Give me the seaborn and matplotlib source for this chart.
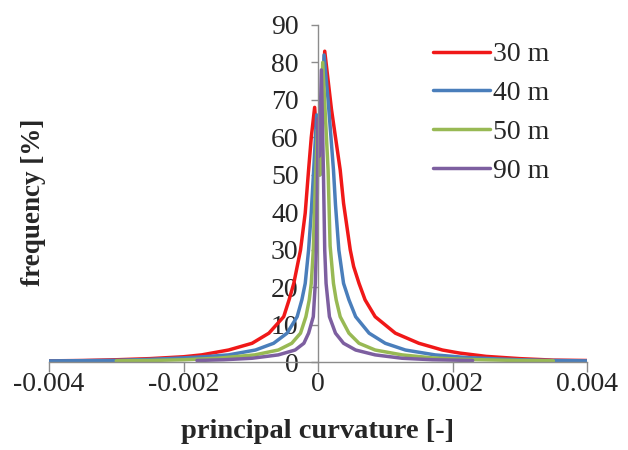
import matplotlib
matplotlib.use("Agg")
import matplotlib.pyplot as plt
import seaborn as sns
import pandas as pd
from matplotlib.lines import Line2D

sns.set_theme(style="white")
plt.rcParams['font.family'] = ['Liberation Serif', 'DejaVu Serif']

series_names = ["30 m", "40 m", "50 m", "90 m"]
colors = ["#f01818", "#4a7ebb", "#98b954", "#7d5fa0"]

x_30 = [-0.004, -0.0035, -0.003, -0.0025, -0.002, -0.00173, -0.00133, -0.00098, -0.00073,
        -0.00051, -0.00043, -0.00036, -0.00026, -0.00019, -0.00014, -0.0001, -0.00005,
        0.00002, 0.0001, 0.0002, 0.00033, 0.00038, 0.00048, 0.00053, 0.00061, 0.0007,
        0.00085, 0.00115, 0.0015, 0.00185, 0.0021, 0.0025, 0.003, 0.0035, 0.004]
y_30 = [0.3, 0.4, 0.6, 0.9, 1.4, 1.9, 3.2, 5.0, 7.7,
        12.1, 16.6, 21, 29.9, 39.8, 51.3, 60, 68,
        50, 83, 67.5, 51.3, 42.4, 29.9, 25.5, 21, 16.6,
        12.1, 7.7, 5.0, 3.2, 2.4, 1.5, 0.9, 0.5, 0.4]

x_40 = [-0.004, -0.0035, -0.003, -0.0025, -0.002, -0.0017, -0.00133, -0.00093, -0.00066,
        -0.00046, -0.00031, -0.00024, -0.00019, -0.00014, -0.0001, -0.000064, -0.00002,
        0.00003, 0.00009, 0.00015, 0.00023, 0.00026, 0.00031, 0.00038, 0.00046, 0.00056,
        0.00076, 0.001, 0.0013, 0.00174, 0.0022, 0.0027, 0.003, 0.0035, 0.004]
y_40 = [0.3, 0.35, 0.45, 0.7, 1.1, 1.4, 1.9, 3.2, 5.0,
        7.7, 12.1, 16.6, 21, 29.9, 40, 51.3, 66,
        50, 82, 70, 51.3, 42, 29.9, 21, 16.6, 12.1,
        7.7, 5.0, 3.2, 1.9, 1.2, 0.8, 0.6, 0.4, 0.3]

x_50 = [-0.003, -0.0025, -0.002, -0.0015, -0.00094, -0.00059, -0.00039, -0.00026, -0.00018,
        -0.00013, -0.0001, -0.00007, -0.00005, -0.00001, 0.00003, 0.00007, 0.00012, 0.00015,
        0.00018, 0.00023, 0.00027, 0.00033, 0.00046, 0.00061, 0.00085, 0.00125, 0.0017,
        0.0022, 0.0027, 0.003, 0.0035]
y_50 = [0.3, 0.4, 0.6, 1.0, 1.9, 3.2, 5.0, 7.7, 12.1,
        16.6, 21, 29.9, 42, 62, 50, 80, 62, 51.3,
        31, 21, 16.6, 12.1, 7.7, 5.0, 3.2, 1.9, 1.1,
        0.7, 0.5, 0.4, 0.3]

x_90 = [-0.0018, -0.0014, -0.00098, -0.00059, -0.00034, -0.00021, -0.00014, -0.00007, -0.00004,
        -0.000025, -0.00001, 0.0, 0.00002, 0.00005, 0.00008, 0.0001, 0.00012, 0.00017,
        0.00026, 0.00038, 0.00056, 0.00085, 0.00125, 0.0017, 0.0023]
y_90 = [0.4, 0.6, 1.0, 1.9, 3.2, 5.0, 7.7, 12.1, 21,
        29.9, 45, 65, 55, 78, 51.3, 29.9, 21, 12.1,
        7.7, 5.0, 3.2, 1.9, 1.0, 0.6, 0.4]

xs = [x_30, x_40, x_50, x_90]
ys = [y_30, y_40, y_50, y_90]

frames = []
for name, xv, yv in zip(series_names, xs, ys):
    frames.append(pd.DataFrame({"curv": xv, "freq": yv, "series": name}))
df = pd.concat(frames, ignore_index=True)

x_ticks = [-0.004, -0.002, 0, 0.002, 0.004]
x_ticklabels = ["-0.004", "-0.002", "0", "0.002", "0.004"]
y_ticks = [0, 10, 20, 30, 40, 50, 60, 70, 80, 90]

fig = plt.figure(figsize=(6.28, 4.5), dpi=100)
ax = fig.add_axes([49/628, 1-362/450, (587-49)/628, (362-25)/450])

sns.lineplot(data=df, x="curv", y="freq", hue="series", hue_order=series_names,
             palette=colors, estimator=None, sort=False,
             linewidth=2.5, ax=ax, legend=False)
for ln in ax.get_lines():
    ln.set_solid_joinstyle("round")
    ln.set_solid_capstyle("round")

ax.set_xlim(-0.004, 0.004)
ax.set_ylim(0, 90)
ax.set_xticks(x_ticks)
ax.set_xticklabels(x_ticklabels)
ax.set_yticks(y_ticks)
ax.spines['left'].set_position(('data', 0))
ax.spines['bottom'].set_position(('data', 0))
for s in ['top', 'right']:
    ax.spines[s].set_visible(False)
for s in ['left', 'bottom']:
    ax.spines[s].set_color("#8c8c8c")
    ax.spines[s].set_linewidth(1.0)
ax.tick_params(axis='x', direction='out', length=7, width=1, color="#8c8c8c",
               labelsize=20, pad=0, bottom=True)
ax.tick_params(axis='y', direction='out', length=5, width=1, color="#8c8c8c",
               labelsize=20, pad=9, left=True)
ax.set_xlabel("")
ax.set_ylabel("")
ax.grid(False)
ax.set_facecolor("white")

fig.text(318/628, 1-432/450, "principal curvature [-]", ha="center", va="center",
         fontsize=20.5, fontweight="bold")
fig.text(34/628, 1-202/450, "frequency [%]", ha="center", va="center",
         fontsize=19.5, fontweight="bold", rotation=90)

handles = [Line2D([0], [0], color=c, linewidth=2.5) for c in colors]
fig.legend(handles, series_names, loc="upper left", bbox_to_anchor=(433/628, 1-42/450),
           frameon=False, fontsize=20, handlelength=2.05, handletextpad=0.1,
           labelspacing=0.48, borderpad=0, borderaxespad=0)

fig.savefig("out.png", dpi=100, facecolor="white")
